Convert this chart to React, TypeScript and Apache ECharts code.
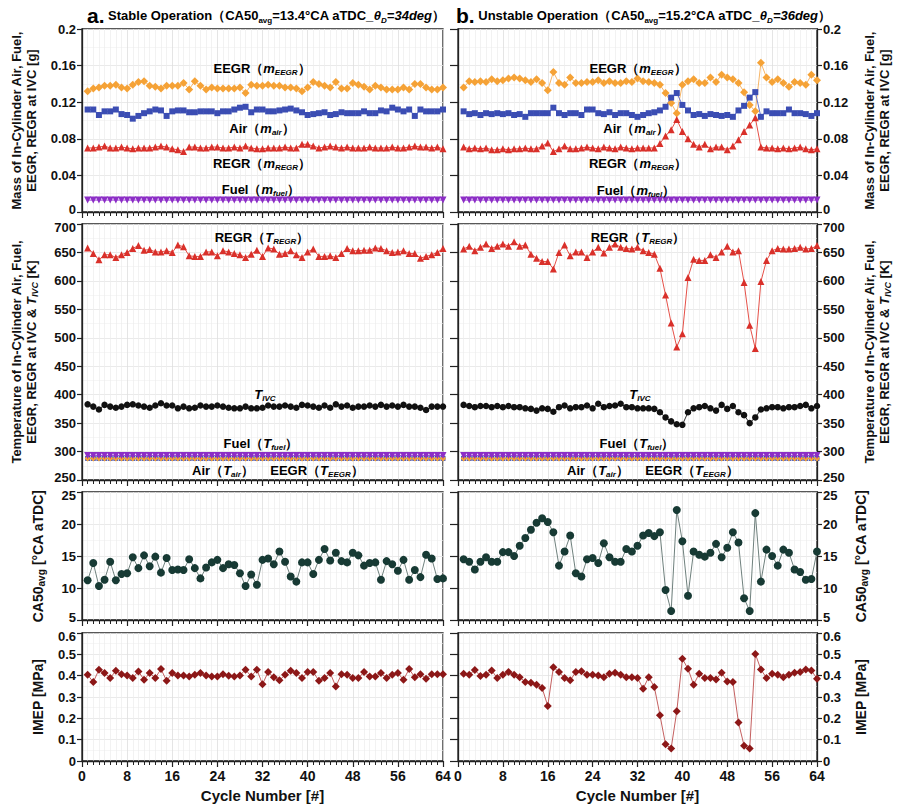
import React, { useEffect, useRef } from "react";
import * as echarts from "echarts";

const FONT = "Liberation Sans, Arial, sans-serif";

const cycles = Array.from({ length: 64 }, (_, i) => i + 1);

// ---------- (a) stable ----------
const mEEGR_a = [0.132,0.135,0.136,0.138,0.138,0.139,0.136,0.135,0.139,0.142,0.143,0.138,0.137,0.135,0.138,0.138,0.138,0.141,0.134,0.143,0.138,0.134,0.136,0.135,0.135,0.135,0.135,0.136,0.130,0.139,0.138,0.138,0.139,0.138,0.138,0.136,0.136,0.135,0.132,0.136,0.142,0.140,0.138,0.136,0.142,0.135,0.135,0.141,0.139,0.137,0.134,0.138,0.136,0.134,0.134,0.134,0.136,0.134,0.140,0.140,0.136,0.134,0.134,0.136];
const mAir_a = [0.112,0.112,0.106,0.110,0.110,0.112,0.107,0.106,0.102,0.105,0.108,0.110,0.112,0.111,0.105,0.110,0.111,0.111,0.109,0.109,0.110,0.110,0.110,0.108,0.110,0.110,0.112,0.114,0.115,0.109,0.112,0.112,0.110,0.110,0.111,0.112,0.113,0.111,0.109,0.106,0.107,0.108,0.109,0.106,0.107,0.109,0.108,0.108,0.108,0.110,0.108,0.108,0.111,0.110,0.114,0.112,0.110,0.112,0.105,0.112,0.110,0.110,0.110,0.112];
const mREGR_a = [0.070,0.070,0.071,0.072,0.070,0.070,0.071,0.070,0.069,0.070,0.070,0.070,0.071,0.072,0.071,0.069,0.068,0.066,0.071,0.071,0.070,0.070,0.071,0.071,0.070,0.070,0.071,0.070,0.072,0.070,0.069,0.069,0.070,0.070,0.070,0.071,0.070,0.070,0.074,0.074,0.072,0.070,0.071,0.072,0.071,0.070,0.071,0.070,0.070,0.070,0.071,0.070,0.070,0.070,0.071,0.070,0.070,0.071,0.072,0.071,0.071,0.070,0.071,0.069];
const TREGR_a = [658,648,637,646,646,641,646,650,657,662,654,655,651,651,653,650,663,660,644,643,643,651,651,644,653,651,648,646,641,647,654,643,658,656,647,648,653,646,641,651,656,643,643,644,641,648,657,653,653,654,654,658,657,653,650,651,653,648,648,640,643,646,650,657];
const TIVC_a = [383,379,374,382,379,377,379,382,383,381,379,377,381,385,381,381,376,379,376,377,381,379,379,381,379,377,376,376,379,376,376,377,381,379,379,381,379,377,382,381,379,377,381,377,383,379,381,377,379,379,381,379,382,379,381,379,382,379,379,377,373,379,379,379];
const CA50_a = [11.2,13.9,10.3,11.3,14.1,11.2,12.2,12.3,14.8,13.1,15.1,13.4,14.9,12.4,14.7,12.8,12.9,12.8,14.5,13.1,11.5,13.2,14.0,14.4,13.1,13.7,13.6,12.3,10.3,12.1,10.5,14.4,14.6,13.7,15.7,14.1,11.8,11.0,14.0,14.0,12.2,14.4,16.1,14.3,15.5,14.2,14.0,15.5,15.1,13.5,13.9,14.0,11.3,14.2,13.7,12.7,14.4,11.3,12.8,11.7,15.2,14.6,11.4,11.5];
const IMEP_a = [0.404,0.370,0.428,0.412,0.389,0.423,0.407,0.401,0.389,0.420,0.381,0.412,0.389,0.431,0.376,0.412,0.401,0.401,0.396,0.404,0.412,0.401,0.396,0.396,0.407,0.400,0.396,0.401,0.428,0.396,0.428,0.360,0.417,0.392,0.378,0.404,0.423,0.412,0.389,0.417,0.417,0.376,0.389,0.412,0.349,0.407,0.404,0.389,0.389,0.417,0.396,0.396,0.412,0.389,0.404,0.412,0.381,0.431,0.392,0.407,0.385,0.407,0.407,0.407];

// ---------- (b) unstable ----------
const mEEGR_b = [0.136,0.143,0.142,0.143,0.142,0.145,0.143,0.144,0.146,0.147,0.146,0.144,0.142,0.145,0.141,0.133,0.153,0.141,0.139,0.147,0.141,0.141,0.142,0.142,0.144,0.141,0.143,0.141,0.141,0.143,0.142,0.146,0.143,0.142,0.141,0.139,0.130,0.119,0.108,0.139,0.143,0.145,0.141,0.141,0.147,0.142,0.150,0.147,0.145,0.141,0.131,0.117,0.110,0.163,0.147,0.142,0.145,0.141,0.137,0.142,0.141,0.139,0.150,0.144];
const mAir_b = [0.110,0.107,0.108,0.106,0.108,0.107,0.108,0.107,0.108,0.106,0.107,0.104,0.108,0.108,0.108,0.108,0.114,0.108,0.106,0.108,0.108,0.106,0.112,0.112,0.108,0.107,0.109,0.106,0.108,0.108,0.106,0.104,0.106,0.108,0.109,0.111,0.115,0.125,0.130,0.117,0.111,0.106,0.107,0.105,0.107,0.106,0.105,0.106,0.104,0.111,0.116,0.125,0.131,0.104,0.110,0.108,0.108,0.108,0.112,0.108,0.108,0.107,0.105,0.108];
const mREGR_b = [0.071,0.069,0.070,0.069,0.070,0.068,0.068,0.069,0.068,0.069,0.069,0.070,0.069,0.069,0.072,0.0755,0.066,0.069,0.072,0.069,0.069,0.070,0.071,0.070,0.069,0.071,0.070,0.069,0.071,0.070,0.069,0.070,0.070,0.070,0.070,0.075,0.083,0.090,0.101,0.088,0.080,0.074,0.071,0.074,0.069,0.071,0.071,0.068,0.072,0.079,0.088,0.095,0.103,0.071,0.070,0.070,0.069,0.070,0.069,0.070,0.071,0.069,0.068,0.069];
const TREGR_b = [656,661,653,659,665,657,661,665,661,669,661,663,647,640,634,634,621,650,663,644,651,651,641,651,659,649,659,665,659,657,656,659,653,650,647,622,575,526,484,507,606,638,636,636,646,641,651,661,651,653,597,522,481,599,636,653,657,656,656,657,659,656,657,662];
const TIVC_b = [382,380,378,380,380,378,380,378,380,378,378,376,375,372,376,375,370,378,381,376,378,378,381,376,384,378,380,381,384,378,378,376,376,376,375,369,360,353,348,347,369,376,378,380,376,372,382,375,380,369,364,350,360,374,376,378,378,376,378,378,380,382,376,380];
const CA50_b = [14.5,14.1,12.9,14.1,14.8,14.1,14.1,15.6,15.6,15.0,16.6,17.8,19.1,20.2,20.9,20.3,18.7,13.5,15.7,18.2,12.3,11.8,14.5,14.7,13.9,17.0,14.8,14.1,14.1,16.1,15.7,16.6,18.2,18.6,18.1,18.7,9.7,6.4,22.2,17.3,8.8,15.7,15.2,14.9,15.5,16.9,14.8,16.3,18.7,17.1,8.4,6.4,21.7,11.0,16.0,15.0,13.5,16.0,15.5,12.9,12.5,11.3,11.4,15.7];
const IMEP_b = [0.409,0.404,0.427,0.398,0.404,0.424,0.389,0.404,0.417,0.404,0.393,0.370,0.367,0.358,0.342,0.258,0.440,0.417,0.389,0.378,0.417,0.421,0.404,0.404,0.401,0.393,0.409,0.414,0.404,0.393,0.393,0.389,0.339,0.393,0.347,0.215,0.078,0.059,0.233,0.479,0.432,0.358,0.409,0.389,0.389,0.382,0.414,0.373,0.370,0.180,0.072,0.059,0.502,0.429,0.389,0.409,0.404,0.393,0.404,0.414,0.417,0.429,0.424,0.386];

// ---------- constant-level series (both cases) ----------
const mFuel = [0.013,0.013,0.013,0.013,0.013,0.013,0.013,0.013,0.013,0.013,0.013,0.013,0.013,0.013,0.013,0.013,0.013,0.013,0.013,0.013,0.013,0.013,0.013,0.013,0.013,0.013,0.013,0.013,0.013,0.013,0.013,0.013,0.013,0.013,0.013,0.013,0.013,0.013,0.013,0.013,0.013,0.013,0.013,0.013,0.013,0.013,0.013,0.013,0.013,0.013,0.013,0.013,0.013,0.013,0.013,0.013,0.013,0.013,0.013,0.013,0.013,0.013,0.013,0.013];
const TFuel = [293,293,293,293,293,293,293,293,293,293,293,293,293,293,293,293,293,293,293,293,293,293,293,293,293,293,293,293,293,293,293,293,293,293,293,293,293,293,293,293,293,293,293,293,293,293,293,293,293,293,293,293,293,293,293,293,293,293,293,293,293,293,293,293];
const TAir = [288,288,288,288,288,288,288,288,288,288,288,288,288,288,288,288,288,288,288,288,288,288,288,288,288,288,288,288,288,288,288,288,288,288,288,288,288,288,288,288,288,288,288,288,288,288,288,288,288,288,288,288,288,288,288,288,288,288,288,288,288,288,288,288];
const TEEGR = [288,288,288,288,288,288,288,288,288,288,288,288,288,288,288,288,288,288,288,288,288,288,288,288,288,288,288,288,288,288,288,288,288,288,288,288,288,288,288,288,288,288,288,288,288,288,288,288,288,288,288,288,288,288,288,288,288,288,288,288,288,288,288,288];

// ---------- styling ----------
const C = {
  eegr: "#f5a236", eegrLine: "#f7b566", eegrTxt: "#d4843c",
  air: "#3b4db3", airLine: "#5f70cf", airTxt: "#3a46a8",
  regr: "#d9302a", regrLine: "#e55048", regrTxt: "#c42f2a",
  fuel: "#8c2ec6", fuelLine: "#a048d8", fuelTxt: "#8b2bb5",
  tivc: "#111111",
  ca50: "#173a34", ca50Line: "#6f807d",
  imep: "#8c1717", imepLine: "#c46060",
};

const rowsY = [
  { top: 29, height: 183, min: 0, max: 0.2, interval: 0.04 },
  { top: 224, height: 256, min: 250, max: 700, interval: 50 },
  { top: 492, height: 128, min: 5, max: 25, interval: 5 },
  { top: 633, height: 128, min: 0, max: 0.6, interval: 0.1 },
];
const colsX = [
  { left: 82, width: 361 },
  { left: 458, width: 359 },
];

const axisNames = [
  "{t|Mass of In-Cylinder Air, Fuel,}\n{t|EEGR, REGR at IVC [g]}",
  "{t|Temperature of In-Cylinder Air, Fuel,}\n{t|EEGR, REGR at IVC & }{ti|T}{ts|IVC}{t| [K]}",
  "{b|CA50}{bs|avg}{b| [°CA aTDC]}",
  "{b|IMEP [MPa]}",
];

const nameRich = {
  t: { fontFamily: FONT, fontSize: 13, fontWeight: "bold", color: "#111", lineHeight: 15 },
  ti: { fontFamily: FONT, fontSize: 13, fontWeight: "bold", fontStyle: "italic", color: "#111", lineHeight: 15 },
  ts: { fontFamily: FONT, fontSize: 9, fontWeight: "bold", fontStyle: "italic", color: "#111", lineHeight: 8, verticalAlign: "bottom" },
  b: { fontFamily: FONT, fontSize: 14, fontWeight: "bold", color: "#111", lineHeight: 16 },
  bs: { fontFamily: FONT, fontSize: 10, fontWeight: "bold", color: "#111", lineHeight: 8, verticalAlign: "bottom" },
};

const tickFont = { fontFamily: FONT, fontSize: 13, fontWeight: "bold", color: "#111" };
const tickRich = {
  lo: { ...tickFont, padding: [0, 0, 6, 0] },
  hi: { ...tickFont, padding: [6, 0, 0, 0] },
  md: { ...tickFont },
};

function lab(color: string, size = 13) {
  return {
    n: { fontFamily: FONT, fontSize: size, fontWeight: "bold", color, lineHeight: 16 },
    i: { fontFamily: FONT, fontSize: size, fontWeight: "bold", fontStyle: "italic", color, lineHeight: 16 },
    s: { fontFamily: FONT, fontSize: 8, fontWeight: "bold", fontStyle: "italic", color, lineHeight: 8, verticalAlign: "bottom" },
  };
}

function annot(x: number, y: number, text: string, color: string) {
  return {
    type: "text",
    x,
    y,
    z: 100,
    style: { text, rich: lab(color), align: "center", verticalAlign: "middle" },
  };
}

function ser(g: number, data: number[], symbol: string, size: number, color: string, lineColor: string, rotate = 0, z = 3) {
  return {
    type: "line",
    xAxisIndex: g,
    yAxisIndex: g,
    data: data.map((v, i) => [cycles[i], v]),
    symbol,
    symbolSize: size,
    symbolRotate: rotate,
    showAllSymbol: true,
    itemStyle: { color, borderColor: color, borderWidth: 0 },
    lineStyle: { color: lineColor, width: 1 },
    z,
    silent: true,
  };
}

export default function App() {
  const ref = useRef<HTMLDivElement>(null);
  useEffect(() => {
    if (!ref.current) return;
    const chart = echarts.init(ref.current, undefined, { renderer: "svg" });

    const grids: any[] = [];
    const xAxes: any[] = [];
    const yAxes: any[] = [];
    const yExtra: any[] = [];
    rowsY.forEach((r, ri) => {
      colsX.forEach((c, ci) => {
        const g = ri * 2 + ci;
        grids.push({
          left: c.left, top: r.top, width: c.width, height: r.height,
          show: true, borderColor: "#222", borderWidth: 1.3, backgroundColor: "#fff",
        });
        xAxes.push({
          gridIndex: g, type: "value", min: 0, max: 64, interval: 8,
          axisLine: { show: true, onZero: false, lineStyle: { color: "#222", width: 1.3 } },
          axisTick: { show: true, length: 6, lineStyle: { color: "#222", width: 1.2 } },
          minorTick: { show: true, splitNumber: 8, length: 4, lineStyle: { color: "#222", width: 1 } },
          axisLabel: {
            show: ri === 3, fontFamily: FONT, fontSize: 14, fontWeight: "bold", color: "#111", margin: 8,
          },
          splitLine: { show: true, lineStyle: { color: "#dedede", width: 0.8 } },
          minorSplitLine: { show: true, lineStyle: { color: "#ececec", width: 0.7 } },
          name: ri === 3 ? "Cycle Number [#]" : "",
          nameLocation: "middle",
          nameGap: 27,
          nameTextStyle: { fontFamily: FONT, fontSize: 15, fontWeight: "bold", color: "#111" },
        });
        const twoLine = ri < 2;
        const fmt = (v: number) => {
          const s = String(parseFloat(v.toFixed(4)));
          if (Math.abs(v - r.min) < 1e-9 && ri < 3) return "{lo|" + s + "}";
          if (Math.abs(v - r.max) < 1e-9 && ri > 0) return "{hi|" + s + "}";
          return "{md|" + s + "}";
        };
        yAxes.push({
          gridIndex: g, type: "value", position: ci === 0 ? "left" : "right",
          min: r.min, max: r.max, interval: r.interval,
          axisLine: { show: true, onZero: false, lineStyle: { color: "#222", width: 1.3 } },
          axisTick: { show: true, length: 5, lineStyle: { color: "#222", width: 1.2 } },
          axisLabel: { ...tickFont, margin: 6, formatter: fmt, rich: tickRich },
          splitLine: { show: true, lineStyle: { color: "#e4e4e4", width: 0.8 } },
          minorTick: { show: false, splitNumber: 2 },
          minorSplitLine: { show: true, lineStyle: { color: "#f0f0f0", width: 0.6 } },
          name: axisNames[ri],
          nameLocation: "middle",
          nameGap: twoLine ? (ci === 0 ? 43 : 45) : 36,
          nameTextStyle: { rich: nameRich },
        });
        if (ci === 1) {
          yExtra.push({
            gridIndex: g, type: "value", position: "left",
            min: r.min, max: r.max, interval: r.interval,
            axisLine: { show: true, onZero: false, lineStyle: { color: "#222", width: 1.3 } },
            axisTick: { show: true, length: 8, lineStyle: { color: "#222", width: 1.2 } },
            axisLabel: { show: false },
            splitLine: { show: false },
          });
        }
      });
    });

    const series: any[] = [
      ser(0, mEEGR_a, "diamond", 8, C.eegr, C.eegrLine),
      ser(0, mAir_a, "rect", 6, C.air, C.airLine),
      ser(0, mREGR_a, "triangle", 7, C.regr, C.regrLine),
      ser(0, mFuel, "triangle", 7, C.fuel, C.fuelLine, 180),
      ser(1, mEEGR_b, "diamond", 8, C.eegr, C.eegrLine),
      ser(1, mAir_b, "rect", 6, C.air, C.airLine),
      ser(1, mREGR_b, "triangle", 7, C.regr, C.regrLine),
      ser(1, mFuel, "triangle", 7, C.fuel, C.fuelLine, 180),
      ser(2, TAir, "rect", 5, C.air, C.airLine),
      ser(2, TEEGR, "diamond", 6, C.eegr, C.eegrLine),
      ser(2, TFuel, "triangle", 7, C.fuel, C.fuelLine, 180, 4),
      ser(2, TREGR_a, "triangle", 7, C.regr, C.regrLine),
      ser(2, TIVC_a, "circle", 6.5, C.tivc, "#333"),
      ser(3, TAir, "rect", 5, C.air, C.airLine),
      ser(3, TEEGR, "diamond", 6, C.eegr, C.eegrLine),
      ser(3, TFuel, "triangle", 7, C.fuel, C.fuelLine, 180, 4),
      ser(3, TREGR_b, "triangle", 7, C.regr, C.regrLine),
      ser(3, TIVC_b, "circle", 6.5, C.tivc, "#333"),
      ser(4, CA50_a, "circle", 8, C.ca50, C.ca50Line),
      ser(5, CA50_b, "circle", 8, C.ca50, C.ca50Line),
      ser(6, IMEP_a, "diamond", 8, C.imep, C.imepLine),
      ser(7, IMEP_b, "diamond", 8, C.imep, C.imepLine),
    ];

    const titleRich = (color: string) => ({
      a: { fontFamily: FONT, fontSize: 21, fontWeight: "bold", color: "#111", lineHeight: 18 },
      o: { fontFamily: FONT, fontSize: 13, fontWeight: "bold", color, lineHeight: 13 },
      oi: { fontFamily: FONT, fontSize: 13, fontWeight: "bold", fontStyle: "italic", color, lineHeight: 13 },
      os: { fontFamily: FONT, fontSize: 8, fontWeight: "bold", color, lineHeight: 6, verticalAlign: "bottom" },
      ois: { fontFamily: FONT, fontSize: 8, fontWeight: "bold", fontStyle: "italic", color, lineHeight: 6, verticalAlign: "bottom" },
    });

    const graphic: any[] = [
      {
        type: "text", x: 87, y: 15, z: 100,
        style: {
          text: "{a|a.}{o| Stable Operation（CA50}{os|avg}{o|=13.4°CA aTDC_}{oi|θ}{ois|D}{oi|=34deg}{o|）}",
          rich: titleRich("#d4783a"), align: "left", verticalAlign: "middle",
        },
      },
      {
        type: "text", x: 456, y: 15, z: 100,
        style: {
          text: "{a|b.}{o| Unstable Operation（CA50}{os|avg}{o|=15.2°CA aTDC_}{oi|θ}{ois|D}{oi|=36deg}{o|）}",
          rich: titleRich("#3b3b98"), align: "left", verticalAlign: "middle",
        },
      },
      annot(262, 68, "{n|EEGR（}{i|m}{s|EEGR}{n|）}", C.eegrTxt),
      annot(262, 128, "{n|Air（}{i|m}{s|air}{n|）}", C.airTxt),
      annot(262, 163, "{n|REGR（}{i|m}{s|REGR}{n|）}", C.regrTxt),
      annot(261, 189, "{n|Fuel（}{i|m}{s|fuel}{n|）}", C.fuelTxt),
      annot(638, 68, "{n|EEGR（}{i|m}{s|EEGR}{n|）}", C.eegrTxt),
      annot(636, 128, "{n|Air（}{i|m}{s|air}{n|）}", C.airTxt),
      annot(638, 163, "{n|REGR（}{i|m}{s|REGR}{n|）}", C.regrTxt),
      annot(636, 190, "{n|Fuel（}{i|m}{s|fuel}{n|）}", C.fuelTxt),
      annot(262, 237, "{n|REGR（}{i|T}{s|REGR}{n|）}", C.regrTxt),
      annot(265, 394, "{i|T}{s|IVC}", "#111"),
      annot(261, 443, "{n|Fuel（}{i|T}{s|fuel}{n|）}", C.fuelTxt),
      annot(223, 470, "{n|Air（}{i|T}{s|air}{n|）}", C.airTxt),
      annot(317, 470, "{n|EEGR（}{i|T}{s|EEGR}{n|）}", C.eegrTxt),
      annot(638, 237, "{n|REGR（}{i|T}{s|REGR}{n|）}", C.regrTxt),
      annot(640, 394, "{i|T}{s|IVC}", "#111"),
      annot(637, 443, "{n|Fuel（}{i|T}{s|fuel}{n|）}", C.fuelTxt),
      annot(598, 470, "{n|Air（}{i|T}{s|air}{n|）}", C.airTxt),
      annot(692, 470, "{n|EEGR（}{i|T}{s|EEGR}{n|）}", C.eegrTxt),
    ];

    chart.setOption({
      animation: false,
      backgroundColor: "#ffffff",
      textStyle: { fontFamily: FONT },
      grid: grids,
      xAxis: xAxes,
      yAxis: [...yAxes, ...yExtra],
      series,
      graphic,
    });
    return () => chart.dispose();
  }, []);

  return (
    <div
      ref={ref}
      style={{ position: "fixed", left: 0, top: 0, width: 898, height: 808, background: "#fff" }}
    />
  );
}
